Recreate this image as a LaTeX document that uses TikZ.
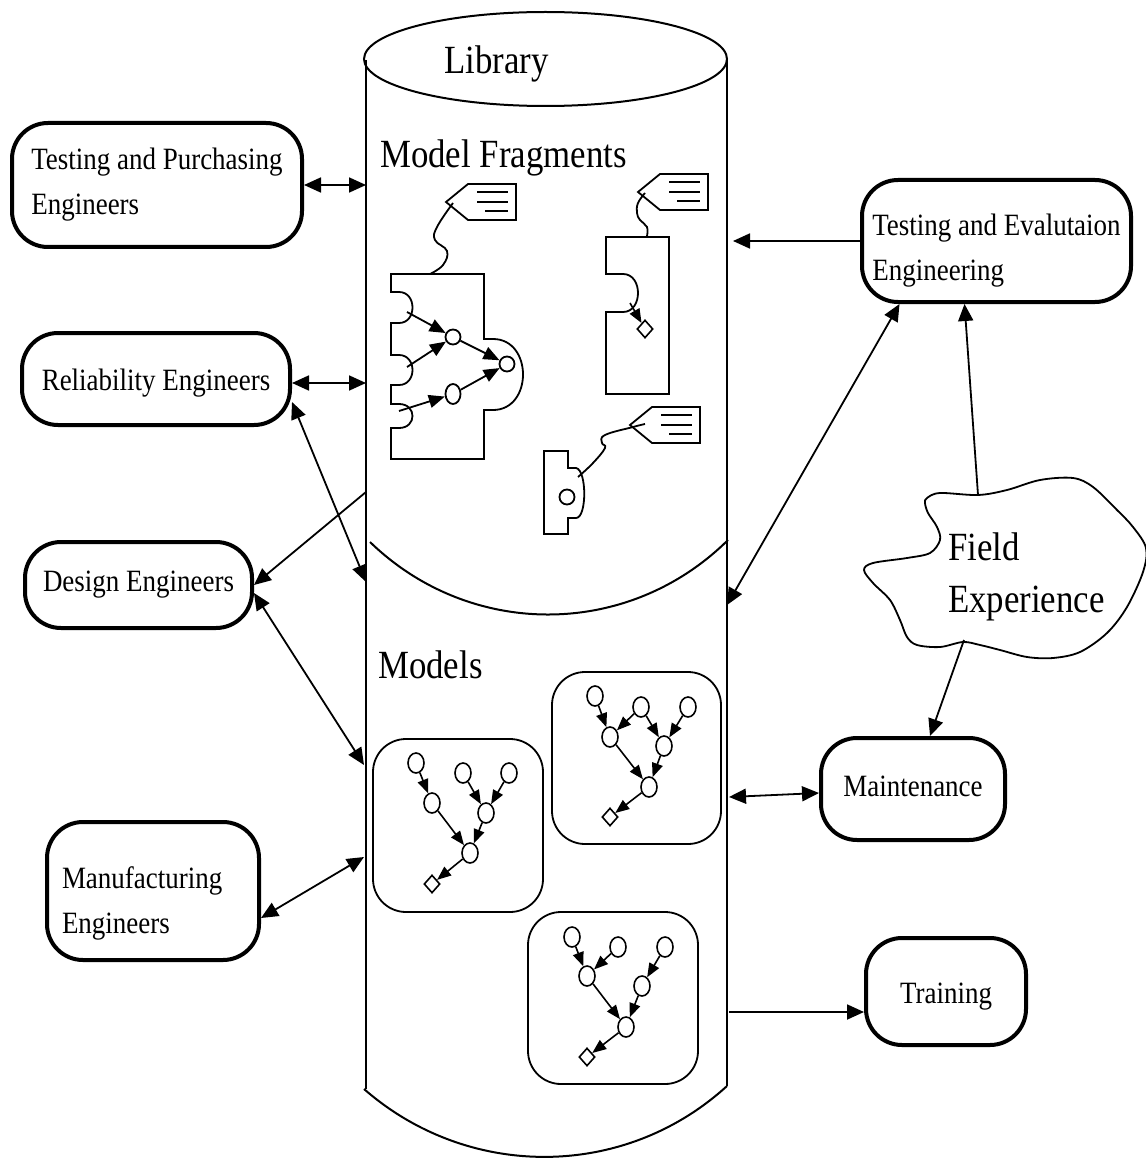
\documentclass[tikz,border=0pt]{standalone}
\usepackage{fontspec}
\setmainfont[FakeStretch=0.87]{Liberation Serif}
\usetikzlibrary{arrows.meta,shapes.geometric}
\newcommand{\txtS}{\fontsize{31}{45}\selectfont}
\newcommand{\txtL}{\fontsize{40}{52}\selectfont}
\begin{document}
\begin{tikzpicture}[x=1pt,y=-1pt,
  box/.style={draw, line width=4pt, rounded corners=36pt, align=left, font=\txtS, inner sep=0pt},
  mbox/.style={draw, line width=1.8pt, rounded corners=33pt, inner sep=0pt},
  bigtxt/.style={font=\txtL, inner sep=0pt},
  cyl/.style={line width=2pt},
  pc/.style={line width=1.8pt},
  dbl/.style={{Triangle[length=17pt,width=15pt]}-{Triangle[length=17pt,width=15pt]}, line width=1.8pt},
  one/.style={-{Triangle[length=17pt,width=15pt]}, line width=1.8pt},
  pa/.style={-{Triangle[length=16pt,width=13pt]}, line width=1.8pt},
  ta/.style={-{Triangle[length=14pt,width=11pt]}, line width=1.6pt},
  tn/.style={ellipse, draw, line width=1.6pt, minimum width=16pt, minimum height=20pt, inner sep=0pt},
  td/.style={diamond, draw, line width=1.6pt, minimum width=16pt, minimum height=18pt, inner sep=0pt},
  circ/.style={circle, draw, line width=1.8pt, minimum size=15pt, inner sep=0pt},
  tagpic/.pic={
    \draw[pc] (0,0) -- (22,-18) -- (70,-18) -- (70,18) -- (22,18) -- cycle;
    \draw[pc] (31,-10) -- (62,-10) (31,0) -- (62,0) (39,9) -- (62,9);
  }
]
\useasboundingbox (0,0) rectangle (1145,1158);
\fill[white] (0,0) rectangle (1145,1158);

% ---------- Library cylinder ----------
\draw[cyl] (545.5,59) ellipse [x radius=181.5pt, y radius=47pt];
\draw[cyl] (366,60) -- (366,1089);
\draw[cyl] (727,60) -- (727,1086);
\draw[cyl] (370,542) .. controls (470,639) and (628,639) .. (728,540);
\draw[cyl] (364,1089) .. controls (468,1180) and (624,1180) .. (727,1086);

\node[bigtxt, anchor=base west] (lib) at (444,74) {Library};
\node[bigtxt, anchor=base west] (mf) at (380,168) {Model Fragments};
\node[bigtxt, anchor=base west] (mod) at (378,678) {Models};

% ---------- Model fragment 1 ----------
\draw[pc] (391,274) -- (484,274) -- (484,339) -- (493,339)
  .. controls (533,339) and (533,410) .. (493,410) -- (484,410) -- (484,459) -- (391,459)
  -- (391,428) -- (399,428) .. controls (417,428) and (417,404) .. (399,404) -- (391,404)
  -- (391,385) -- (399,385) .. controls (417,385) and (417,355) .. (399,355) -- (391,355)
  -- (391,323) -- (399,323) .. controls (417,323) and (417,292) .. (399,292) -- (391,292) -- cycle;
\node[circ] (p1a) at (453,337) {};
\node[circ] (p1b) at (507,364) {};
\node[ellipse, draw, line width=1.8pt, minimum width=15pt, minimum height=20pt, inner sep=0pt] (p1c) at (453,394) {};
\coordinate (n1) at (407,312);
\coordinate (n2) at (407,367);
\coordinate (n3) at (399,411);
\draw[pa] (n1) -- (p1a);
\draw[pa] (n2) -- (p1a);
\draw[pa] (n3) -- (p1c);
\draw[pa] (p1a) -- (p1b);
\draw[pa] (p1c) -- (p1b);
\pic at (446,202) {tagpic};
\draw[pc] plot[smooth, tension=0.7] coordinates {(453,203) (437,227) (435,240) (447,251) (443,265) (430,274)};

% ---------- Model fragment 2 ----------
\draw[pc] (606,237) -- (669,237) -- (669,394) -- (606,394) -- (606,312) -- (623,312)
  .. controls (643,312) and (643,274) .. (623,274) -- (606,274) -- cycle;
\node[td] (d2) at (645,329) {};
\coordinate (n4) at (630,303);
\draw[ta] (n4) -- (d2);
\pic at (638,192) {tagpic};
\draw[pc] plot[smooth, tension=0.7] coordinates {(645,193) (638,203) (637,213) (640,220) (647,227) (647,236)};

% ---------- Model fragment 3 ----------
\draw[pc] (544,451) -- (568,451) -- (568,468) -- (576,468)
  .. controls (587,470) and (587,518) .. (576,518) -- (568,518) -- (568,534) -- (544,534) -- cycle;
\node[circ] (p3) at (567,497) {};
\pic at (630,425) {tagpic};
\draw[pc] plot[smooth, tension=0.7] coordinates {(645,424) (633,427) (605,435) (602,443) (605,448) (593,463) (578,477)};

% ---------- Models ----------
\node[mbox, minimum width=170pt, minimum height=173pt] (m1) at (458,825.5) {};
\node[tn] (m1a) at (416,763) {};
\node[tn] (m1b) at (463,773) {};
\node[tn] (m1c) at (509,773) {};
\node[tn] (m1d) at (432,803) {};
\node[tn] (m1e) at (486,813) {};
\node[tn] (m1f) at (470,853) {};
\node[td] (m1g) at (432,884) {};
\draw[ta] (m1a) -- (m1d);
\draw[ta] (m1b) -- (m1e);
\draw[ta] (m1c) -- (m1e);
\draw[ta] (m1d) -- (m1f);
\draw[ta] (m1e) -- (m1f);
\draw[ta] (m1f) -- (m1g);

\node[mbox, minimum width=169pt, minimum height=172pt] (m2) at (636.5,758) {};
\node[tn] (m2a) at (595,696) {};
\node[tn] (m2b) at (641,707) {};
\node[tn] (m2c) at (688,707) {};
\node[tn] (m2d) at (610,737) {};
\node[tn] (m2e) at (664,746) {};
\node[tn] (m2f) at (649,787) {};
\node[td] (m2g) at (610,817) {};
\draw[ta] (m2a) -- (m2d);
\draw[ta] (m2b) -- (m2d);
\draw[ta] (m2b) -- (m2e);
\draw[ta] (m2c) -- (m2e);
\draw[ta] (m2d) -- (m2f);
\draw[ta] (m2e) -- (m2f);
\draw[ta] (m2f) -- (m2g);

\node[mbox, minimum width=170pt, minimum height=172pt] (m3) at (613,998) {};
\node[tn] (m3a) at (572,937) {};
\node[tn] (m3b) at (618,947) {};
\node[tn] (m3c) at (665,947) {};
\node[tn] (m3d) at (587,976) {};
\node[tn] (m3e) at (642,986) {};
\node[tn] (m3f) at (626,1027) {};
\node[td] (m3g) at (587,1057) {};
\draw[ta] (m3a) -- (m3d);
\draw[ta] (m3b) -- (m3d);
\draw[ta] (m3c) -- (m3e);
\draw[ta] (m3d) -- (m3f);
\draw[ta] (m3e) -- (m3f);
\draw[ta] (m3f) -- (m3g);

% ---------- Field experience cloud ----------
\draw[pc] plot[smooth cycle, tension=0.55] coordinates {
  (927,498) (940,493) (978,495) (1007,490) (1040,480) (1073,478) (1093,487)
  (1117,510) (1133,527) (1146,548) (1143,572) (1127,607) (1107,633) (1080,652)
  (1053,658) (1027,657) (1000,650) (980,645) (963,642) (940,647) (917,645)
  (907,637) (900,620) (890,600) (873,583) (864,570) (873,563) (907,558)
  (930,553) (940,540) (937,527) (928,513) (925,503)};
\node[bigtxt, anchor=west, align=left] (fe) at (948,577) {Field\\Experience};
\coordinate (fetop) at (978,495);
\coordinate (febot) at (964,640);

% ---------- People boxes ----------
\node[box, minimum width=290pt, minimum height=124pt] (tp) at (157,185) {Testing and Purchasing\\Engineers};
\node[box, minimum width=268pt, minimum height=92pt, text height=22pt, text depth=0pt] (rel) at (156,379) {Reliability Engineers};
\node[box, minimum width=227pt, minimum height=86pt] (des) at (138.5,585) {Design Engineers};
\node[box, minimum width=212pt, minimum height=138pt, text width=182pt, inner xsep=15pt] (man) at (153,891) {\rule{0pt}{47pt}Manufacturing\\Engineers};
\node[box, minimum width=269pt, minimum height=122pt] (te) at (996.5,241) {\rule{0pt}{40pt}Testing and Evalutaion\\Engineering};
\node[box, minimum width=184pt, minimum height=102pt, text height=21pt, text depth=7pt] (maint) at (913,789) {Maintenance};
\node[box, minimum width=160pt, minimum height=107pt, text height=23pt, text depth=0pt] (train) at (946,991.5) {Training};

% ---------- Connectors ----------
\coordinate (c1) at (366,184);
\coordinate (c3) at (366,582);
\coordinate (c4) at (366,492);
\coordinate (c5) at (364,765);
\coordinate (c6) at (364,857);
\coordinate (c7) at (733,241);
\coordinate (c8) at (727,605);
\coordinate (c11) at (729,797);
\coordinate (c12) at (729,1012);

\draw[dbl] (tp.east) -- (tp.east -| c1);
\draw[dbl] ([yshift=-4pt]rel.east) -- ([yshift=-4pt]rel.east -| c1);
\draw[dbl] ([yshift=-23pt]rel.east) -- (c3);
\draw[one] (c4) -- (des.east);
\draw[dbl] ([yshift=-8pt]des.east) -- (c5);
\draw[dbl] ([yshift=-27pt]man.east) -- (c6);
\draw[one] (te.west) -- (c7);
\draw[dbl] ([xshift=-97pt]te.south) -- (c8);
\draw[one] (fetop) -- ([xshift=-32pt]te.south);
\draw[one] (febot) -- ([xshift=17pt]maint.north);
\draw[dbl] ([yshift=-4pt]maint.west) -- (c11);
\draw[one] (c12) -- ([yshift=-20.5pt]train.west);
\end{tikzpicture}
\end{document}
